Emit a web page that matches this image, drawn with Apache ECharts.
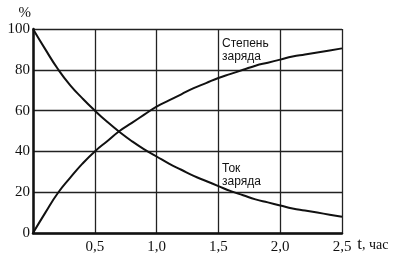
<!DOCTYPE html>
<html>
<head>
<meta charset="utf-8">
<script src="https://cdn.jsdelivr.net/npm/echarts@6/dist/echarts.min.js"></script>
<style>
  html, body { margin: 0; padding: 0; background: #fff; }
  #chart { width: 400px; height: 259px; }
</style>
</head>
<body>
<div id="chart"></div>
<script>
var chart = echarts.init(document.getElementById('chart'));

// время, час
var hours = [0, 0.1, 0.2, 0.3, 0.4, 0.5, 0.6, 0.7, 0.8, 0.9, 1.0, 1.1, 1.2,
             1.3, 1.4, 1.5, 1.6, 1.7, 1.8, 1.9, 2.0, 2.1, 2.2, 2.3, 2.4, 2.5];
// ток заряда, %
var current = [100, 90, 80.5, 72.5, 66, 60, 54.5, 49.5, 45, 41, 37.5, 34, 31,
               28, 25.5, 23, 20.5, 18.5, 16.5, 15, 13.5, 12, 11, 10, 9, 8];
// степень заряда, %
var charge = [0, 10, 19.5, 27, 34, 40, 45, 50, 54, 58, 62, 65, 68,
              71, 73.5, 76, 78, 80, 82, 83.5, 85, 86.5, 87.5, 88.5, 89.5, 90.5];

var serif = '"Liberation Serif", "DejaVu Serif", serif';
var sans = '"Liberation Sans", Arial, sans-serif';

function pairs(ys) {
  return hours.map(function (t, i) { return [t, ys[i]]; });
}

var option = {
  backgroundColor: '#fff',
  animation: false,
  grid: { left: 33, right: 58, top: 29, bottom: 26 },
  xAxis: {
    type: 'value',
    min: 0, max: 2.5, interval: 0.5,
    name: '{t|t}{c|, час}',
    nameLocation: 'end',
    nameGap: 10,
    nameTextStyle: {
      padding: [24, 0, 0, 0],
      rich: {
        t: { fontFamily: serif, fontSize: 17, color: '#111' },
        c: { fontFamily: serif, fontSize: 14, color: '#111' }
      }
    },
    axisLine: { show: true, lineStyle: { color: '#111', width: 2.5 } },
    axisTick: { show: false },
    axisLabel: {
      margin: 7,
      fontFamily: serif, fontSize: 15, color: '#111',
      formatter: function (v) {
        if (v === 0) return '';
        return v.toFixed(1).replace('.', ',');
      }
    },
    splitLine: { show: true, lineStyle: { color: '#222', width: 1.3 } }
  },
  yAxis: {
    type: 'value',
    min: 0, max: 100, interval: 20,
    name: '%',
    nameLocation: 'end',
    nameGap: 8,
    nameTextStyle: { fontFamily: serif, fontSize: 15, color: '#111', align: 'right', padding: [0, 2, 0, 0] },
    axisLine: { show: true, lineStyle: { color: '#111', width: 2.5 } },
    axisTick: { show: false },
    axisLabel: { margin: 3, fontFamily: serif, fontSize: 15, color: '#111' },
    splitLine: { show: true, lineStyle: { color: '#222', width: 1.3 } }
  },
  series: [
    {
      name: 'Ток заряда',
      type: 'line',
      smooth: true,
      symbol: 'none',
      lineStyle: { color: '#111', width: 2 },
      data: pairs(current)
    },
    {
      name: 'Степень заряда',
      type: 'line',
      smooth: true,
      symbol: 'none',
      lineStyle: { color: '#111', width: 2 },
      data: pairs(charge)
    }
  ],
  graphic: [
    {
      type: 'text', left: 222, top: 37,
      style: { text: 'Степень\nзаряда', fontFamily: sans, fontSize: 12, lineHeight: 13, fill: '#111' }
    },
    {
      type: 'text', left: 222, top: 162,
      style: { text: 'Ток\nзаряда', fontFamily: sans, fontSize: 12, lineHeight: 13, fill: '#111' }
    }
  ]
};

chart.setOption(option);
</script>
</body>
</html>
